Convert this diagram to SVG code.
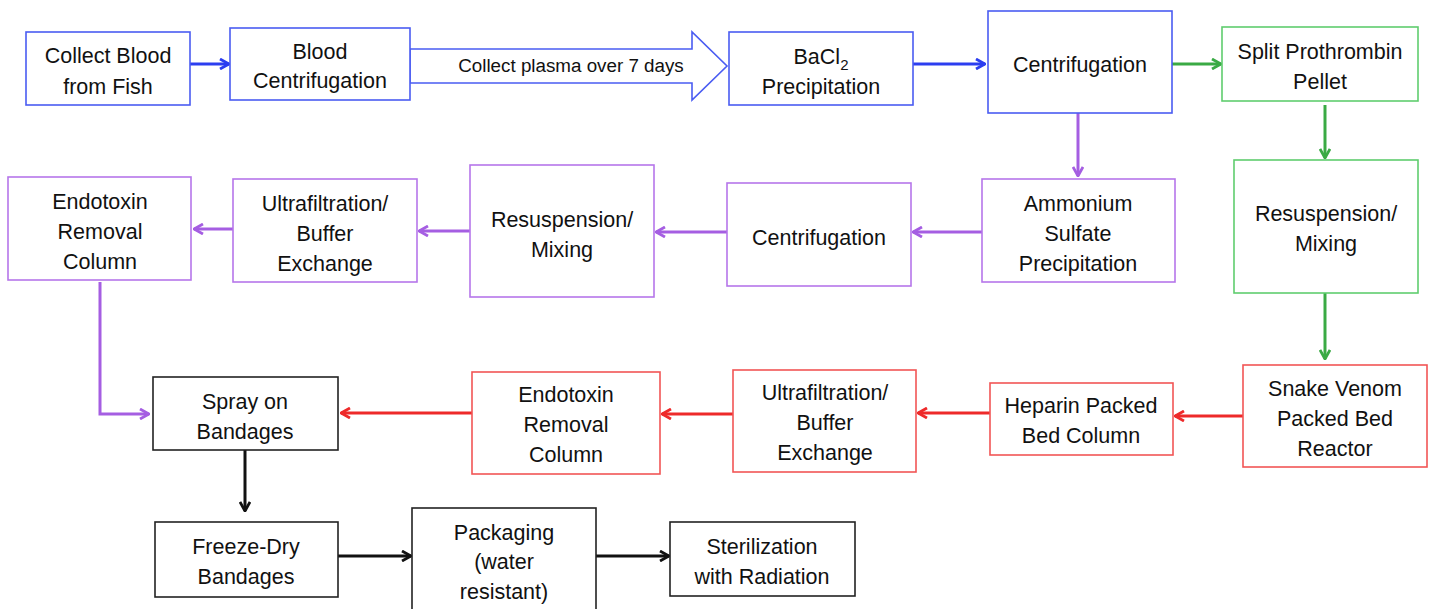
<svg xmlns="http://www.w3.org/2000/svg" width="1437" height="609" viewBox="0 0 1437 609">
<style>
rect{fill:#fff;stroke-width:1.6}
.b rect{stroke:#4a5cf2}
.g rect{stroke:#5fcd6e}
.p rect{stroke:#b676ea}
.r rect{stroke:#f25555}
.k rect{stroke:#222}
text{font-family:"Liberation Sans",Arial,sans-serif;font-size:21.5px;fill:#111;text-anchor:middle}
.small{font-size:18.8px}
#connectors path{fill:none;stroke-width:3}
.cb{stroke:#2c3ef0}
.cg{stroke:#3aaa44}
.cp{stroke:#a55ee2}
.cr{stroke:#ee2a2a}
.ck{stroke:#111}
</style>
<defs>
<marker id="mb" viewBox="0 0 12 12" refX="11" refY="6" markerWidth="12" markerHeight="12" markerUnits="userSpaceOnUse" orient="auto"><path d="M2,1 L11,6 L2,11" fill="none" stroke="#2c3ef0" stroke-width="2.8"/></marker>
<marker id="mg" viewBox="0 0 12 12" refX="11" refY="6" markerWidth="12" markerHeight="12" markerUnits="userSpaceOnUse" orient="auto"><path d="M2,1 L11,6 L2,11" fill="none" stroke="#3aaa44" stroke-width="2.8"/></marker>
<marker id="mp" viewBox="0 0 12 12" refX="11" refY="6" markerWidth="12" markerHeight="12" markerUnits="userSpaceOnUse" orient="auto"><path d="M2,1 L11,6 L2,11" fill="none" stroke="#a55ee2" stroke-width="2.8"/></marker>
<marker id="mr" viewBox="0 0 12 12" refX="11" refY="6" markerWidth="12" markerHeight="12" markerUnits="userSpaceOnUse" orient="auto"><path d="M2,1 L11,6 L2,11" fill="none" stroke="#ee2a2a" stroke-width="2.8"/></marker>
<marker id="mk" viewBox="0 0 12 12" refX="11" refY="6" markerWidth="12" markerHeight="12" markerUnits="userSpaceOnUse" orient="auto"><path d="M2,1 L11,6 L2,11" fill="none" stroke="#111" stroke-width="2.8"/></marker>
</defs>
<rect x="0" y="0" width="1437" height="609" style="fill:#fff;stroke:none"/>

<g id="connectors">
<path class="cb" d="M190,64 H229" marker-end="url(#mb)"/>
<polygon points="410,49 692,49 692,32 727,66 692,100 692,83 410,83" fill="#fff" stroke="#4a5cf2" stroke-width="1.6"/>
<text class="small" x="571" y="72">Collect plasma over 7 days</text>
<path class="cb" d="M913,64 H985" marker-end="url(#mb)"/>
<path class="cg" d="M1172,64 H1221" marker-end="url(#mg)"/>
<path class="cg" d="M1325,105 V158" marker-end="url(#mg)"/>
<path class="cp" d="M1078,113 V176" marker-end="url(#mp)"/>
<path class="cp" d="M982,232 H913" marker-end="url(#mp)"/>
<path class="cp" d="M727,232 H656" marker-end="url(#mp)"/>
<path class="cp" d="M470,231 H419" marker-end="url(#mp)"/>
<path class="cp" d="M233,229 H194" marker-end="url(#mp)"/>
<path class="cp" d="M100,282 V414 H149" marker-end="url(#mp)"/>
<path class="cg" d="M1325,293 V359" marker-end="url(#mg)"/>
<path class="cr" d="M1243,416 H1175" marker-end="url(#mr)"/>
<path class="cr" d="M990,413 H918" marker-end="url(#mr)"/>
<path class="cr" d="M733,414 H662" marker-end="url(#mr)"/>
<path class="cr" d="M472,413 H341" marker-end="url(#mr)"/>
<path class="ck" d="M245,450 V511" marker-end="url(#mk)"/>
<path class="ck" d="M338,556 H411" marker-end="url(#mk)"/>
<path class="ck" d="M596,556 H669" marker-end="url(#mk)"/>
</g>

<g id="n1" class="b"><rect x="26" y="32" width="164" height="73"/><text x="108" y="63">Collect Blood</text><text x="108" y="94">from Fish</text></g>
<g id="n2" class="b"><rect x="230" y="28" width="180" height="72"/><text x="320" y="59">Blood</text><text x="320" y="88">Centrifugation</text></g>
<g id="n3" class="b"><rect x="729" y="32" width="184" height="73"/><text x="821" y="64">BaCl<tspan font-size="15" dy="6">2</tspan></text><text x="821" y="94">Precipitation</text></g>
<g id="n4" class="b"><rect x="988" y="11" width="184" height="102"/><text x="1080" y="72">Centrifugation</text></g>
<g id="n5" class="g"><rect x="1222" y="27" width="196" height="74"/><text x="1320" y="59">Split Prothrombin</text><text x="1320" y="89">Pellet</text></g>
<g id="n6" class="g"><rect x="1234" y="160" width="184" height="133"/><text x="1326" y="221">Resuspension/</text><text x="1326" y="251">Mixing</text></g>
<g id="n7" class="p"><rect x="982" y="179" width="193" height="103"/><text x="1078" y="211">Ammonium</text><text x="1078" y="241">Sulfate</text><text x="1078" y="271">Precipitation</text></g>
<g id="n8" class="p"><rect x="727" y="183" width="184" height="103"/><text x="819" y="245">Centrifugation</text></g>
<g id="n9" class="p"><rect x="470" y="165" width="184" height="132"/><text x="562" y="227">Resuspension/</text><text x="562" y="257">Mixing</text></g>
<g id="n10" class="p"><rect x="233" y="179" width="184" height="103"/><text x="325" y="211">Ultrafiltration/</text><text x="325" y="241">Buffer</text><text x="325" y="271">Exchange</text></g>
<g id="n11" class="p"><rect x="8" y="177" width="183" height="103"/><text x="100" y="209">Endotoxin</text><text x="100" y="239">Removal</text><text x="100" y="269">Column</text></g>
<g id="n12" class="r"><rect x="1243" y="365" width="184" height="102"/><text x="1335" y="396">Snake Venom</text><text x="1335" y="426">Packed Bed</text><text x="1335" y="456">Reactor</text></g>
<g id="n13" class="r"><rect x="990" y="383" width="183" height="72"/><text x="1081" y="413">Heparin Packed</text><text x="1081" y="443">Bed Column</text></g>
<g id="n14" class="r"><rect x="733" y="370" width="183" height="102"/><text x="825" y="400">Ultrafiltration/</text><text x="825" y="430">Buffer</text><text x="825" y="460">Exchange</text></g>
<g id="n15" class="r"><rect x="472" y="372" width="188" height="102"/><text x="566" y="402">Endotoxin</text><text x="566" y="432">Removal</text><text x="566" y="462">Column</text></g>
<g id="n16" class="k"><rect x="153" y="377" width="185" height="73"/><text x="245" y="409">Spray on</text><text x="245" y="439">Bandages</text></g>
<g id="n17" class="k"><rect x="155" y="522" width="183" height="75"/><text x="246" y="554">Freeze-Dry</text><text x="246" y="584">Bandages</text></g>
<g id="n18" class="k"><rect x="412" y="508" width="184" height="106"/><text x="504" y="540">Packaging</text><text x="504" y="569">(water</text><text x="504" y="599">resistant)</text></g>
<g id="n19" class="k"><rect x="670" y="522" width="185" height="74"/><text x="762" y="554">Sterilization</text><text x="762" y="584">with Radiation</text></g>
</svg>
